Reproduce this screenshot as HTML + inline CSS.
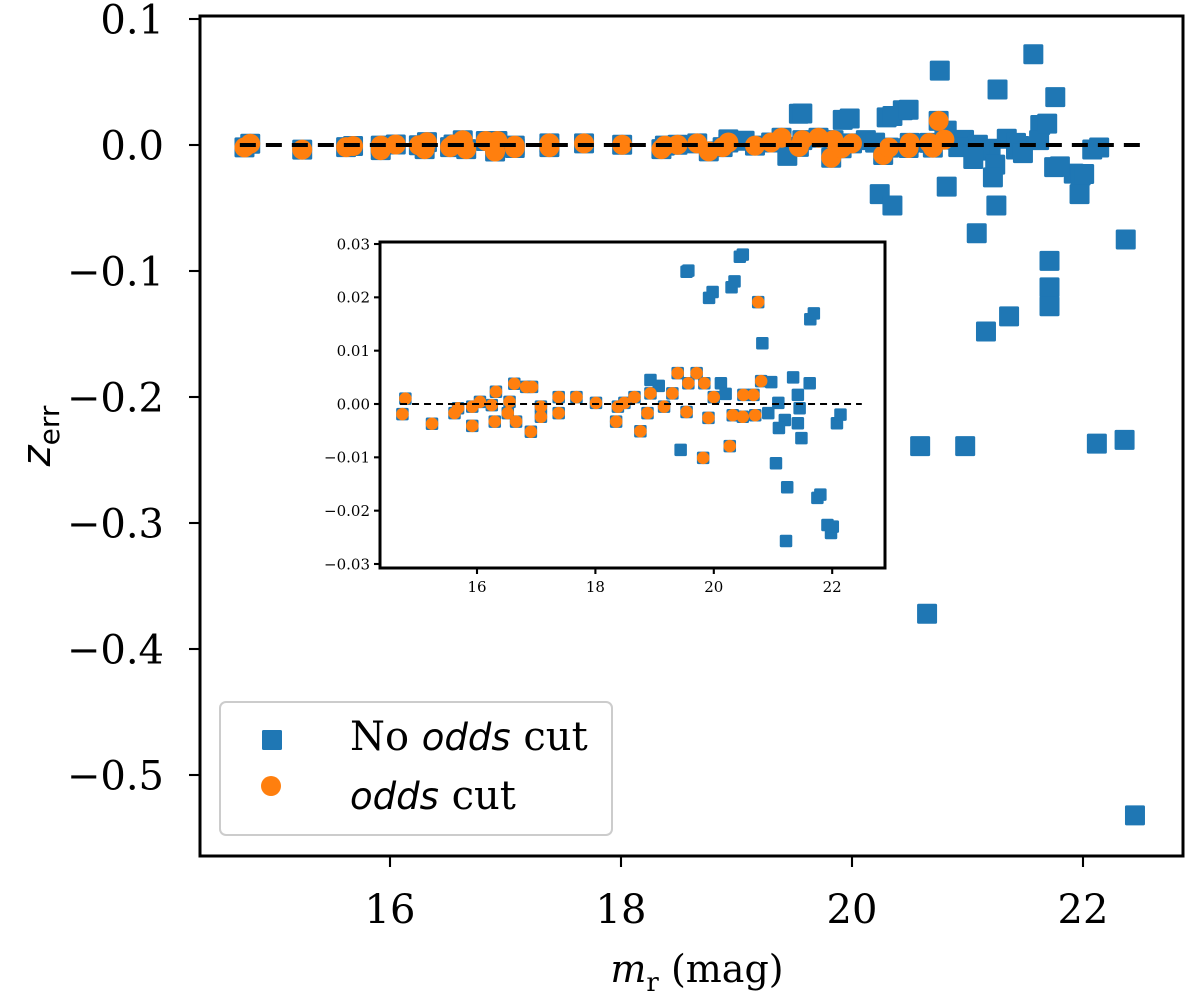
<!DOCTYPE html>
<html><head><meta charset="utf-8"><style>
body{margin:0;background:#fff;overflow:hidden}
text{font-family:"DejaVu Serif","Liberation Serif",serif}
</style></head><body>
<svg id="chart" width="1200" height="1005" xmlns="http://www.w3.org/2000/svg" style="display:block">
<defs>
<clipPath id="mainClip"><rect x="200" y="16" width="983" height="841"/></clipPath>
<clipPath id="insetClip"><rect x="380" y="242" width="505" height="326"/></clipPath>
</defs>
<g id="main"></g><g id="inset"></g>
</svg>
<script>
// orange (odds cut) points: magnitude, z error
const oddsMag=[14.79,14.74,15.24,15.62,15.68,15.92,15.92,16.05,16.25,16.32,16.30,16.52,16.55,16.63,16.66,16.83,16.93,16.91,17.08,17.08,17.38,17.38,17.68,18.01,18.35,18.38,18.49,18.66,18.76,18.88,18.93,19.16,19.30,19.39,19.54,19.57,19.71,19.84,19.82,19.91,20.00,20.27,20.32,20.49,20.50,20.67,20.70,20.75,20.80];
const oddsZ=[0.001,-0.0019,-0.0037,-0.0017,-0.0008,-0.0041,-0.0005,0.0004,-0.0002,0.0023,-0.0033,-0.0017,0.0004,0.0038,-0.0033,0.0032,0.0032,-0.0052,-0.0024,-0.0005,0.0013,-0.0017,0.0013,0.0002,-0.0033,-0.0005,0.0002,0.0013,-0.0051,-0.0017,0.002,-0.0005,0.002,0.0058,-0.0015,0.0039,0.0058,0.0039,-0.0101,-0.0026,0.0013,-0.0079,-0.0021,-0.0024,0.0017,0.0017,-0.0021,0.0191,0.0043];
// additional blue (no odds cut) points
const extraMag=[19.54,20.44,20.30,19.92,20.82,21.63,18.93,19.07,20.12,20.20,20.97,21.34,21.62,21.42,21.09,20.92,21.20,21.45,21.42,21.10,21.48,22.08,19.44,21.05,21.24,21.75,21.92,21.98,21.22,
20.76,21.57,21.76,21.26,19.57,19.98,20.35,20.49,21.69,20.24,20.35,20.82,21.25,21.08,21.80,22.01,21.97,22.14,22.37,21.71,21.71,21.16,21.36,21.71,20.59,20.98,22.12,22.36,20.65,22.45];
const extraZ=[0.0248,0.0276,0.0219,0.0199,0.0114,0.0159,0.0045,0.0034,0.0039,0.0019,0.0041,0.005,0.0039,0.0017,0.0002,-0.0017,-0.003,-0.0008,-0.0036,-0.0045,-0.0064,-0.0036,-0.0086,-0.0111,-0.0156,-0.0176,-0.0227,-0.0242,-0.0257,
0.059,0.072,0.038,0.044,0.025,0.021,0.023,0.028,0.017,-0.039,-0.048,-0.033,-0.048,-0.070,-0.017,-0.023,-0.039,-0.002,-0.075,-0.092,-0.113,-0.148,-0.136,-0.128,-0.239,-0.239,-0.237,-0.234,-0.372,-0.532];
const mainXTicks=[16,18,20,22];
const mainYTicks=[0.1,0.0,-0.1,-0.2,-0.3,-0.4,-0.5];
const insetXTicks=[16,18,20,22];
const insetYTicks=[0.03,0.02,0.01,0.00,-0.01,-0.02,-0.03];

const NS="http://www.w3.org/2000/svg";
function mk(parent,tag,attrs){const e=document.createElementNS(NS,tag);for(const k in attrs)e.setAttribute(k,attrs[k]);parent.appendChild(e);return e;}
const blueMag=oddsMag.concat(extraMag), blueZ=oddsZ.concat(extraZ);
const fmt=v=>{const s=v.toFixed(1);return (v<0?"\u2212"+s.slice(1):s);};
const fmt2=v=>{let s=Math.abs(v).toFixed(2);return (v<-1e-9?"\u2212":"")+s;};

function panel(g,o){
  const sx=m=>o.x0+(m-o.xa)*o.kx, sy=z=>o.y0-(z-o.za)*o.ky;
  const marks=mk(g,"g",{"clip-path":"url(#"+o.clip+")"});
  blueMag.forEach((m,i)=>{const r=mk(marks,"rect",{x:sx(m)-o.s/2,y:sy(blueZ[i])-o.s/2,width:o.s,height:o.s,rx:1.5,fill:"#1f77b4"});
    
    });
  oddsMag.forEach((m,i)=>{const c=mk(marks,"circle",{cx:sx(m),cy:sy(oddsZ[i]),r:o.s/2,fill:"#ff7f0e"});
    
    });
  const zl=mk(marks,"line",{x1:sx(o.lx1),x2:sx(o.lx2),y1:sy(0),y2:sy(0),stroke:"#000","stroke-width":o.lw,"stroke-dasharray":o.dash});
  
  
  const fr=mk(g,"rect",{x:o.L,y:o.T,width:o.R-o.L,height:o.B-o.T,fill:"none",stroke:"#000","stroke-width":o.fw});
  
  
  o.xt.forEach(v=>{const x=sx(v);mk(g,"line",{x1:x,x2:x,y1:o.B,y2:o.B+o.tl,stroke:"#000","stroke-width":o.fw*0.7});
    const t=mk(g,"text",{x:x,y:o.B+o.xly,"font-size":o.fs,"text-anchor":"middle"});t.textContent=v;
    
    });
  o.yt.forEach(v=>{const y=sy(v);mk(g,"line",{x1:o.L-o.tl,x2:o.L,y1:y,y2:y,stroke:"#000","stroke-width":o.fw*0.7});
    const t=mk(g,"text",{x:o.L-o.ylx,y:y+o.fs*0.36,"font-size":o.fs,"text-anchor":"end"});t.textContent=o.f(v);
    
    });
}
const mainG=document.getElementById("main"), insetG=document.getElementById("inset");




panel(mainG,{x0:390,xa:16,kx:115.5,y0:145,za:0,ky:1260,L:200,R:1183,T:16,B:856,s:20,lw:4,dash:"16,10",lx1:14.7,lx2:22.5,fw:3,tl:11,xly:67,ylx:36,fs:40,xt:mainXTicks,yt:mainYTicks,f:fmt,clip:"mainClip",name:"main"});
mk(insetG,"rect",{x:380,y:242,width:505,height:326,fill:"#fff"});
panel(insetG,{x0:477,xa:16,kx:59.2,y0:404,za:0,ky:5333,L:380,R:885,T:242,B:568,s:12.5,lw:2,dash:"7,5",lx1:14.7,lx2:22.5,fw:3,tl:6,xly:24,ylx:10,fs:15,xt:insetXTicks,yt:insetYTicks,f:fmt2,clip:"insetClip",name:"inset"});

const svg=document.getElementById("chart");
let t=mk(svg,"text",{x:697,y:982,"font-size":38,"text-anchor":"middle"});
t.innerHTML='<tspan font-style="italic">m</tspan><tspan font-size="26" dy="9">r</tspan><tspan dy="-9"> (mag)</tspan>';


t=mk(svg,"text",{transform:"translate(50,436) rotate(-90)","font-size":40,"text-anchor":"middle","font-family":"DejaVu Sans,sans-serif"});
t.innerHTML='<tspan font-style="italic" font-family="DejaVu Sans,sans-serif">z</tspan><tspan font-size="28" dy="9" font-family="DejaVu Sans,sans-serif">err</tspan>';


// legend
const lg=mk(svg,"g",{});


mk(lg,"rect",{x:220,y:702,width:392,height:133,rx:6,fill:"#fff",stroke:"#ccc","stroke-width":2});
const l1=mk(lg,"rect",{x:262,y:730,width:20,height:20,rx:1.5,fill:"#1f77b4"});


t=mk(lg,"text",{x:350,y:750,"font-size":40});
t.innerHTML='No <tspan font-style="italic" font-family="DejaVu Sans,sans-serif" font-size="37">odds</tspan> cut';


const l2=mk(lg,"circle",{cx:271,cy:786,r:10,fill:"#ff7f0e"});


t=mk(lg,"text",{x:350,y:809,"font-size":40});
t.innerHTML='<tspan font-style="italic" font-family="DejaVu Sans,sans-serif" font-size="37">odds</tspan> cut';


</script>
</body></html>
